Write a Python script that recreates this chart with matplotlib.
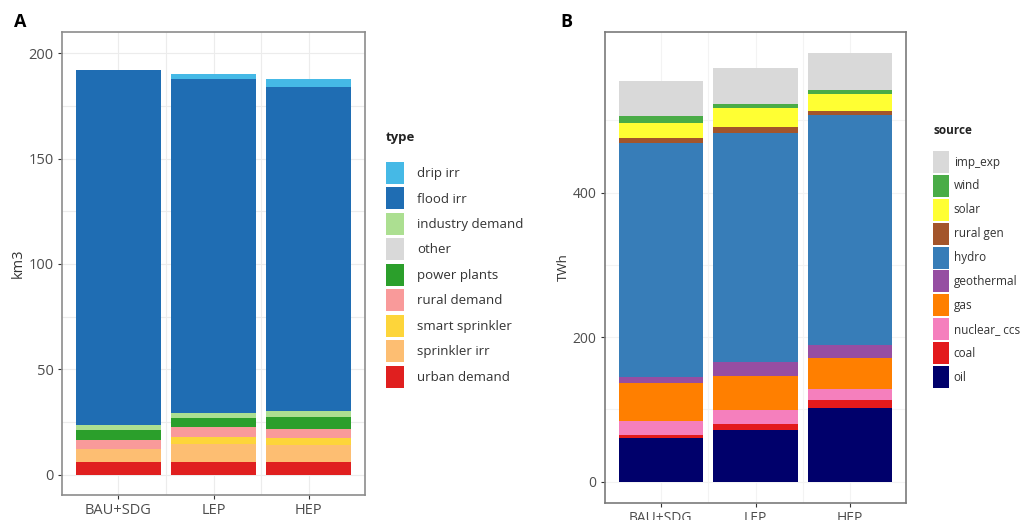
import numpy as np
import matplotlib.pyplot as plt
from matplotlib.patches import Patch

plt.rcParams['font.family'] = ['Open Sans', 'DejaVu Sans']

scenarios = ['BAU+SDG', 'LEP', 'HEP']

# panel A, km3 (bottom -> top of stack)
urban_demand = [6.0, 6.0, 6.0]
sprinkler_irr = [6.2, 8.8, 8.3]
smart_sprinkler = [0.0, 3.3, 3.0]
rural_demand = [4.5, 4.4, 4.6]
power_plants = [4.4, 4.5, 5.7]
other = [0.0, 0.0, 0.0]
industry_demand = [2.4, 2.4, 2.5]
flood_irr = [168.3, 158.4, 153.6]
drip_irr = [0.0, 2.4, 4.1]

# panel B, TWh (bottom -> top of stack)
oil = [60.0, 72.0, 102.0]
coal = [4.6, 7.8, 11.5]
nuclear_ccs = [19.8, 19.4, 14.8]
gas = [52.2, 47.5, 42.9]
geothermal = [7.8, 19.3, 18.0]
hydro = [324.4, 317.0, 318.8]
rural_gen = [6.4, 8.3, 5.5]
solar = [21.2, 25.4, 23.1]
wind = [10.2, 6.1, 5.4]
imp_exp = [48.4, 49.8, 50.8]

water_types = ['drip irr', 'flood irr', 'industry demand', 'other', 'power plants',
               'rural demand', 'smart sprinkler', 'sprinkler irr', 'urban demand']
water_vals = [drip_irr, flood_irr, industry_demand, other, power_plants,
              rural_demand, smart_sprinkler, sprinkler_irr, urban_demand]
water_cols = ['#45b9e6', '#1f6db3', '#acdf91', '#d9d9d9', '#2b9f2b',
              '#f99a9a', '#fdd53a', '#fdbe72', '#e01f1f']

energy_src = ['imp_exp', 'wind', 'solar', 'rural gen', 'hydro', 'geothermal',
              'gas', 'nuclear_ ccs', 'coal', 'oil']
energy_vals = [imp_exp, wind, solar, rural_gen, hydro, geothermal,
               gas, nuclear_ccs, coal, oil]
energy_cols = ['#d9d9d9', '#4aac47', '#ffff33', '#a3552b', '#377db8', '#964ea2',
               '#ff7f00', '#f57fbd', '#e31a1c', '#00006b']


def stack(ax, vals, cols):
    x = np.arange(len(scenarios))
    bottom = np.zeros(len(scenarios))
    # legend order is top of stack first, so draw reversed
    for v, c in zip(vals[::-1], cols[::-1]):
        ax.bar(x, v, width=0.89, bottom=bottom, color=c, linewidth=0, zorder=3)
        bottom += np.array(v)
    ax.set_xticks(x)
    ax.set_xticklabels(scenarios)
    ax.set_xlim(-0.59, len(scenarios) - 0.41)


def style(ax, edge, grid, fs):
    ax.grid(True, which='both', color=grid, linewidth=0.8, zorder=0)
    for s in ax.spines.values():
        s.set_color(edge)
        s.set_linewidth(1.2)
    ax.tick_params(colors='#333333', labelcolor='#4d4d4d', labelsize=fs,
                   length=3, width=0.8, pad=3)
    ax.tick_params(which='minor', length=0)


def legend(handles, labels, title, x, ytitle, yfirst, fs, hh, ls, pad):
    fig.text(x / 1036, 1 - ytitle / 520, title, fontsize=fs, fontweight='bold',
             va='center', color='#222222')
    leg = fig.legend(handles, labels, loc='upper left',
                     bbox_to_anchor=(x / 1036, 1 - yfirst / 520), frameon=False,
                     fontsize=fs, handlelength=1.35, handleheight=hh,
                     labelspacing=ls, handletextpad=pad, borderaxespad=0,
                     borderpad=0)
    for t in leg.get_texts():
        t.set_color('#333333')
    return leg


fig = plt.figure(figsize=(10.36, 5.2), dpi=100)

axA = fig.add_axes([62 / 1036, 1 - 495 / 520, 303 / 1036, 463 / 520])
stack(axA, water_vals, water_cols)
axA.set_ylim(-9.6, 210)
axA.set_yticks([0, 50, 100, 150, 200])
axA.set_yticks([25, 75, 125, 175], minor=True)
axA.set_xticks([0.5, 1.5], minor=True)
style(axA, '#8c8c8c', '#ececec', 10.5)
axA.set_ylabel('km3', fontsize=10.5, color='#333333', labelpad=2)

axB = fig.add_axes([605 / 1036, 1 - 503 / 520, 301 / 1036, 471 / 520])
stack(axB, energy_vals, energy_cols)
axB.set_ylim(-29.6, 622.5)
axB.set_yticks([0, 200, 400])
axB.set_yticks([100, 300, 500], minor=True)
axB.set_xticks([0.5, 1.5], minor=True)
style(axB, '#7a7a7a', '#f3f3f3', 10)
axB.set_ylabel('TWh', fontsize=9.5, color='#333333', labelpad=2)

fig.text(14 / 1036, 1 - 22 / 520, 'A', fontsize=13, fontweight='bold', va='center')
fig.text(560 / 1036, 1 - 22 / 520, 'B', fontsize=13, fontweight='bold', va='center')

hA = [Patch(facecolor=c, edgecolor='none') for c in water_cols]
legend(hA, water_types, 'type', 386, 137, 162, 9.5, 2.19, 0.26, 1.0)

hB = [Patch(facecolor=c, edgecolor='none') for c in energy_cols]
legend(hB, energy_src, 'source', 933, 130, 151, 8.5, 2.49, 0.16, 0.4)

fig.savefig('out.png', dpi=100)
